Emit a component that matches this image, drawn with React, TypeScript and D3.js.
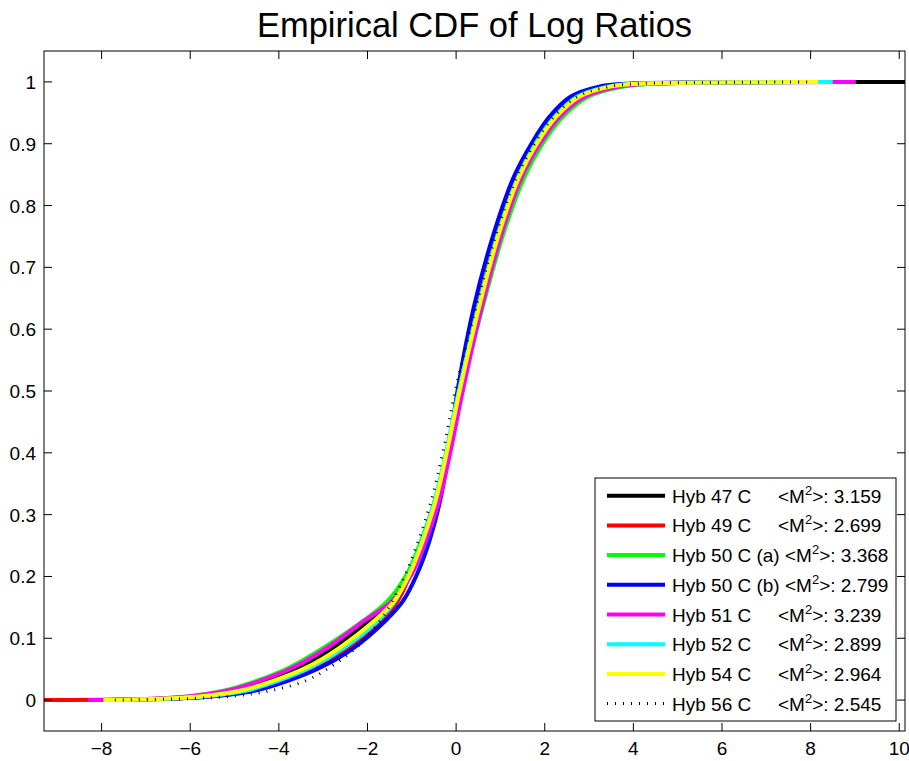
import React, { useEffect } from "react";
import * as d3 from "d3";

// Cumulative probability levels at which each series' log-ratio value was read
const probs = [0, 0.003, 0.007, 0.015, 0.031, 0.053, 0.085, 0.128, 0.16, 0.204, 0.258, 0.323, 0.404, 0.5, 0.636, 0.755, 0.846, 0.9, 0.943, 0.976, 0.992, 0.9974, 0.999, 1];

const hyb47 = [-8.05, -6.45, -5.75, -5.02, -4.28, -3.52, -2.77, -1.97, -1.44, -1.07, -0.76, -0.47, -0.2, 0.09, 0.54, 0.99, 1.45, 1.86, 2.29, 2.83, 3.52, 4.3, 5.8, 10.13];
const hyb49 = [-9.3, -6.2, -5.4, -4.62, -3.9, -3.15, -2.42, -1.7, -1.32, -1.03, -0.74, -0.46, -0.2, 0.07, 0.49, 0.94, 1.39, 1.78, 2.2, 2.7, 3.35, 4.1, 5.4, 7.8];
const hyb50a = [-7.6, -6.59, -5.93, -5.25, -4.5, -3.75, -2.98, -2.1, -1.55, -1.11, -0.79, -0.48, -0.2, 0.11, 0.6, 1.07, 1.54, 1.95, 2.4, 2.98, 3.75, 4.65, 6.0, 7.6];
const hyb50b = [-7.4, -6.2, -5.35, -4.55, -3.8, -3.05, -2.3, -1.6, -1.2, -0.88, -0.6, -0.36, -0.16, 0.03, 0.4, 0.85, 1.3, 1.7, 2.1, 2.58, 3.2, 3.95, 5.2, 7.5];
const hyb51 = [-8.3, -6.6, -5.9, -5.18, -4.43, -3.67, -2.9, -2.08, -1.45, -1.0, -0.68, -0.38, -0.12, 0.15, 0.58, 1.03, 1.48, 1.89, 2.33, 2.9, 3.65, 4.5, 5.9, 9.02];
const hyb52 = [-7.5, -6.3, -5.5, -4.75, -4.02, -3.27, -2.52, -1.77, -1.38, -1.07, -0.77, -0.48, -0.22, 0.06, 0.5, 0.95, 1.4, 1.79, 2.22, 2.73, 3.4, 4.15, 5.5, 8.5];
const hyb54 = [-7.96, -6.39, -5.63, -4.88, -4.13, -3.37, -2.62, -1.85, -1.4, -1.05, -0.75, -0.46, -0.2, 0.08, 0.52, 0.97, 1.42, 1.82, 2.25, 2.78, 3.45, 4.2, 5.65, 8.17];
const hyb56 = [-7.7, -5.8, -4.95, -4.2, -3.4, -2.85, -2.25, -1.72, -1.44, -1.14, -0.85, -0.56, -0.29, -0.02, 0.45, 0.91, 1.37, 1.77, 2.2, 2.74, 3.42, 4.2, 5.65, 7.95];

const seriesNames = ["Hyb 47 C", "Hyb 49 C", "Hyb 50 C (a)", "Hyb 50 C (b)", "Hyb 51 C", "Hyb 52 C", "Hyb 54 C", "Hyb 56 C"];
const seriesM2 = ["3.159", "2.699", "3.368", "2.799", "3.239", "2.899", "2.964", "2.545"];
const seriesColors = ["#000000", "#ff0000", "#00ff00", "#0000ff", "#ff00ff", "#00ffff", "#ffff00", "#000000"];
const seriesValues = [hyb47, hyb49, hyb50a, hyb50b, hyb51, hyb52, hyb54, hyb56];

const xTicks = [-8, -6, -4, -2, 0, 2, 4, 6, 8, 10];
const yTicks = [0, 0.1, 0.2, 0.3, 0.4, 0.5, 0.6, 0.7, 0.8, 0.9, 1];
const titleText = "Empirical CDF of Log Ratios";

const W = 909, H = 761;
const L = 44, R = 905, T = 51, B = 731;
const FONT = "'Liberation Sans', Arial, Helvetica, sans-serif";

export default function App() {
  useEffect(() => {
    document.body.style.margin = "0";
  }, []);

  const allX = seriesValues.flat();
  const x = d3.scaleLinear().domain(d3.extent(allX) as [number, number]).range([L, R]);
  const y = d3.scaleLinear().domain([-0.05, 1.05]).range([B, T]);

  const line = d3
    .line<[number, number]>()
    .x((d) => x(d[0]))
    .y((d) => y(d[1]))
    .curve(d3.curveCatmullRom.alpha(0.5));

  const tickLen = 8;
  const legX = 595, legY = 478, legW = 301, legH = 243;
  const rowY0 = 495.7, rowStep = 29.7;

  const fmtY = (v: number) => (v === 0 ? "0" : v === 1 ? "1" : d3.format(".1f")(v));
  const fmtX = (v: number) => (v < 0 ? "\u2212" + Math.abs(v) : String(v));

  return (
    <svg width={W} height={H} style={{ position: "absolute", left: 0, top: 0, background: "#fff" }} fontFamily={FONT}>
      <rect x={0} y={0} width={W} height={H} fill="#fff" />
      <text x={(L + R) / 2} y={37} textAnchor="middle" fontSize={34.5} fill="#000">
        {titleText}
      </text>

      {/* series */}
      {seriesValues.map((vals, i) => {
        const pts = vals.map((v, k) => [v, probs[k]] as [number, number]);
        const dotted = i === 7;
        return (
          <path
            key={i}
            d={line(pts) || ""}
            fill="none"
            stroke={seriesColors[i]}
            strokeWidth={dotted ? 3 : 4}
            strokeDasharray={dotted ? "1 7" : undefined}
            strokeLinejoin="round"
          />
        );
      })}

      {/* frame */}
      <rect x={L} y={T} width={R - L} height={B - T} fill="none" stroke="#000" strokeWidth={1} />

      {/* x ticks */}
      {xTicks.map((t) => (
        <g key={"x" + t}>
          <line x1={x(t)} x2={x(t)} y1={B} y2={B - tickLen} stroke="#000" strokeWidth={1} />
          <line x1={x(t)} x2={x(t)} y1={T} y2={T + tickLen} stroke="#000" strokeWidth={1} />
          <text x={x(t)} y={B + 24} textAnchor="middle" fontSize={19} fill="#000">
            {fmtX(t)}
          </text>
        </g>
      ))}

      {/* y ticks */}
      {yTicks.map((t) => (
        <g key={"y" + t}>
          <line x1={L} x2={L + tickLen} y1={y(t)} y2={y(t)} stroke="#000" strokeWidth={1} />
          <line x1={R} x2={R - tickLen} y1={y(t)} y2={y(t)} stroke="#000" strokeWidth={1} />
          <text x={36} y={y(t) + 7} textAnchor="end" fontSize={19} fill="#000">
            {fmtY(t)}
          </text>
        </g>
      ))}

      {/* legend */}
      <rect x={legX} y={legY} width={legW} height={legH} fill="#fff" stroke="#000" strokeWidth={1} />
      {seriesNames.map((name, i) => {
        const cy = rowY0 + i * rowStep;
        const dotted = i === 7;
        const paren = name.includes("(");
        return (
          <g key={"leg" + i}>
            <line
              x1={607}
              x2={665}
              y1={cy}
              y2={cy}
              stroke={seriesColors[i]}
              strokeWidth={dotted ? 3 : 4}
              strokeDasharray={dotted ? "1 7" : undefined}
            />
            <text x={672} y={cy + 7} fontSize={19} fill="#000" style={{ whiteSpace: "pre" }}>
              {name}
            </text>
            <text x={paren ? 785 : 778} y={cy + 7} fontSize={19} fill="#000" style={{ whiteSpace: "pre" }}>
              {"<M"}
              <tspan fontSize={13} dy={-8}>2</tspan>
              <tspan dy={8}>{">: " + seriesM2[i]}</tspan>
            </text>
          </g>
        );
      })}
    </svg>
  );
}
